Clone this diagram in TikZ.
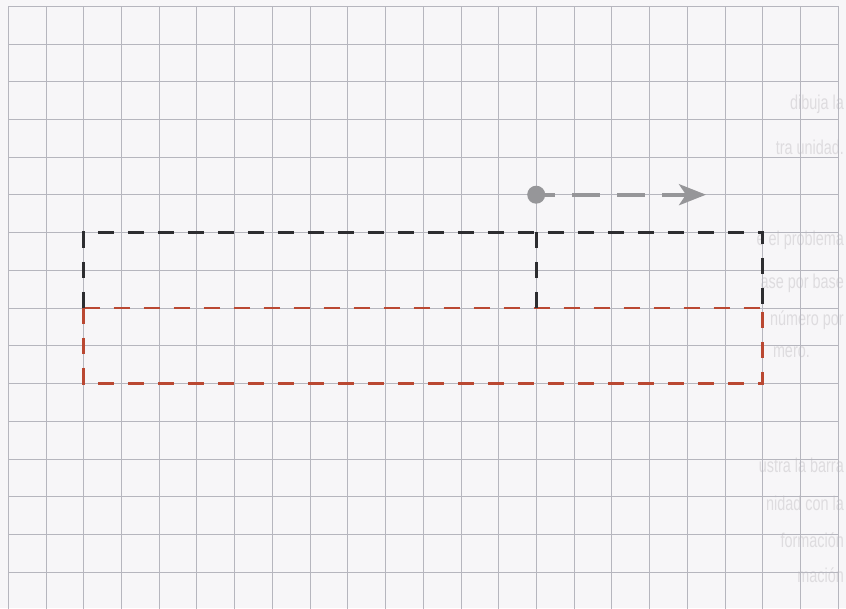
\documentclass[tikz,border=0pt]{standalone}
\usepackage{fontspec}
\setmainfont{Liberation Sans}
\usetikzlibrary{arrows.meta}
\definecolor{paper}{RGB}{247,246,248}
\definecolor{gridc}{RGB}{182,182,190}
\definecolor{redd}{RGB}{186,72,50}
\definecolor{inkk}{RGB}{45,45,48}
\definecolor{arrowc}{RGB}{150,150,153}
\definecolor{ghost}{RGB}{222,220,223}
\newcommand{\narrowtext}[1]{\scalebox{0.72}[1]{#1}}
\tikzset{
  gridline/.style={draw=gridc, line width=1pt},
  blackdash/.style={draw=inkk, line width=2.6pt, dash pattern=on 16pt off 14pt},
  reddash/.style={draw=redd, line width=2.6pt, dash pattern=on 16pt off 14pt},
  arrowline/.style={draw=arrowc, line width=4pt, dash pattern=on 28pt off 17pt, dash phase=9pt,
    -{Stealth[length=27pt,width=21pt,inset=7pt]}},
  dotnode/.style={circle, fill=arrowc, inner sep=0pt, minimum size=18pt},
  ghosttext/.style={text=ghost, anchor=east, inner sep=0pt, font=\fontsize{20}{22}\selectfont}
}
\begin{document}
\begin{tikzpicture}[x=1pt,y=-1pt]
\useasboundingbox[fill=paper] (0,0) rectangle (846,608);
% faint show-through text
\node[ghosttext] (g1) at (844,104) {\narrowtext{dibuja la}};
\node[ghosttext] (g2) at (844,147) {\narrowtext{tra unidad.}};
\node[ghosttext] (g3) at (844,240) {\narrowtext{e el problema}};
\node[ghosttext] (g4) at (844,283) {\narrowtext{ase por base}};
\node[ghosttext] (g5) at (844,320) {\narrowtext{número por}};
\node[ghosttext] (g6) at (810,352) {\narrowtext{mero.}};
\node[ghosttext] (g7) at (844,465) {\narrowtext{ustra la barra}};
\node[ghosttext] (g8) at (844,503) {\narrowtext{nidad con la}};
\node[ghosttext] (g9) at (844,540) {\narrowtext{formación}};
\node[ghosttext] (g10) at (844,575) {\narrowtext{mación}};
\begin{scope}
\clip (0,0) rectangle (846,608);
% grid
\foreach \i in {0,...,22} {
  \draw[gridline] ({8.3+37.727*\i},6) -- ({8.3+37.727*\i},612);
}
\foreach \j in {0,...,15} {
  \draw[gridline] (8,{6.3+37.727*\j}) -- (838.3,{6.3+37.727*\j});
}
\end{scope}
% rectangle corners
\coordinate (TL) at (83.5,232.4);
\coordinate (TM) at (536.2,232.4);
\coordinate (TR) at (762.6,232.4);
\coordinate (ML) at (83.5,307.8);
\coordinate (MM) at (536.2,307.8);
\coordinate (MR) at (762.6,307.8);
\coordinate (BL) at (83.5,383.3);
\coordinate (BR) at (762.6,383.3);
% red lower strip
\draw[reddash] (ML) -- (BL) -- (BR) -- (MR);
\draw[reddash] (ML) -- (MR);
% black upper strip
\draw[blackdash] (ML) -- (TL) -- (TR) -- (MR);
\draw[blackdash] (TM) -- (MM);
% arrow with dot
\coordinate (dotc) at (536.2,194.7);
\coordinate (tip) at (706,194.7);
\draw[arrowline] (dotc) -- (tip);
\node[dotnode] (dot) at (dotc) {};
\end{tikzpicture}
\end{document}
